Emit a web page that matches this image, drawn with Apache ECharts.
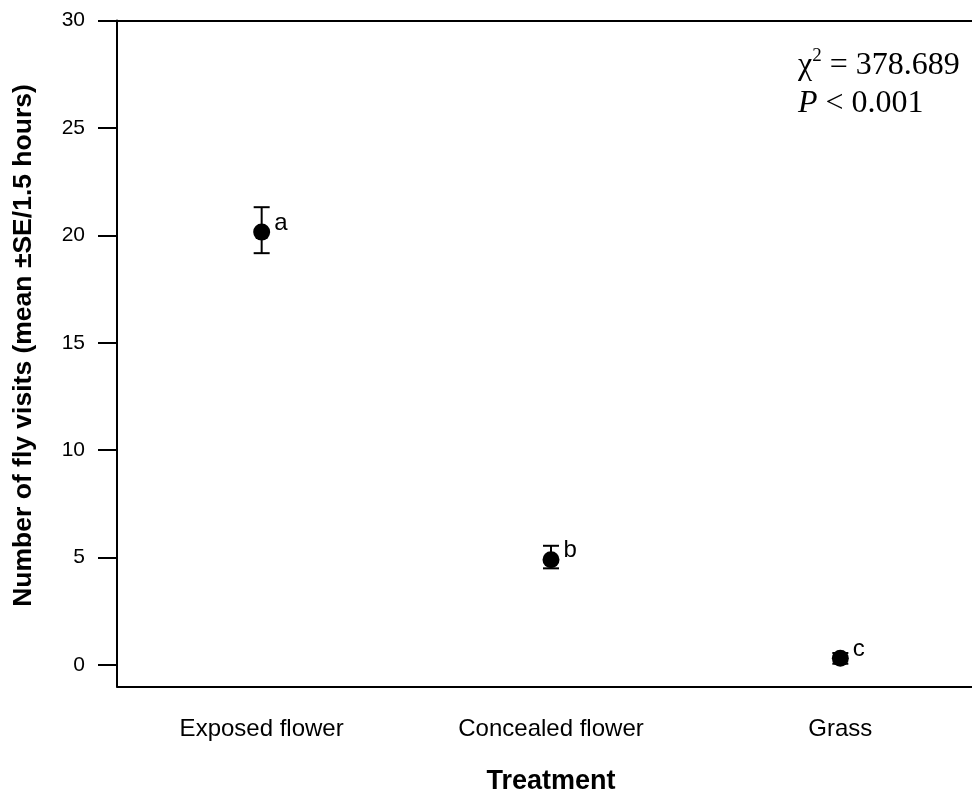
<!DOCTYPE html>
<html>
<head>
<meta charset="utf-8">
<script src="https://cdn.jsdelivr.net/npm/echarts@6/dist/echarts.min.js"></script>
<style>
  html, body { margin: 0; padding: 0; background: #fff; }
  #chart { width: 972px; height: 796px; }
</style>
</head>
<body>
<div id="chart"></div>
<script>
// data
const categories = ['Exposed flower', 'Concealed flower', 'Grass'];
const means = [20.15, 4.9, 0.31];
const seLow = [19.17, 4.5, 0.06];
const seHigh = [21.31, 5.55, 0.56];
const letters = ['a', 'b', 'c'];
const yTicks = [0, 5, 10, 15, 20, 25, 30];

const chartDom = document.getElementById('chart');
const myChart = echarts.init(chartDom);

const sans = '"Liberation Sans", Arial, sans-serif';
const serif = '"Liberation Serif", "Times New Roman", serif';

const errData = categories.map((c, i) => [i, seLow[i], seHigh[i]]);

const option = {
  backgroundColor: '#fff',
  animation: false,
  grid: { left: 117, top: 20.5, width: 868, height: 666, outerBoundsMode: 'none', containLabel: false },
  xAxis: [
    {
      type: 'category',
      data: categories,
      boundaryGap: true,
      name: 'Treatment',
      nameLocation: 'middle',
      nameGap: 82,
      nameTextStyle: { fontFamily: sans, fontSize: 27, fontWeight: 'bold', color: '#000' },
      axisLine: { onZero: false, lineStyle: { color: '#000', width: 2 } },
      axisTick: { alignWithLabel: true, length: 19, lineStyle: { color: '#000', width: 2 } },
      axisLabel: { fontFamily: sans, fontSize: 24, color: '#000', margin: 31 },
      splitLine: { show: false }
    },
    {
      type: 'category',
      data: categories,
      position: 'top',
      axisLine: { onZero: false, lineStyle: { color: '#000', width: 2 } },
      axisTick: { show: false },
      axisLabel: { show: false },
      splitLine: { show: false }
    }
  ],
  yAxis: {
    type: 'value',
    min: -1,
    max: 30,
    name: 'Number of fly visits (mean ±SE/1.5 hours)',
    nameLocation: 'middle',
    nameGap: 80,
    nameTextStyle: { fontFamily: sans, fontSize: 26.5, fontWeight: 'bold', color: '#000', padding: [0, 0, 0, 16] },
    axisLine: { show: true, lineStyle: { color: '#000', width: 2 } },
    axisTick: { show: true, length: 19, customValues: yTicks, lineStyle: { color: '#000', width: 2 } },
    axisLabel: { fontFamily: sans, fontSize: 21, color: '#000', margin: 32, customValues: yTicks },
    splitLine: { show: false }
  },
  graphic: [
    {
      type: 'text',
      left: 798,
      top: 47,
      style: {
        text: '{n|χ}{sup|2}{n| = 378.689}\n{i|P}{n| < 0.001}',
        rich: {
          n: { fontFamily: serif, fontSize: 32, color: '#000', lineHeight: 38 },
          i: { fontFamily: serif, fontSize: 32, fontStyle: 'italic', color: '#000', lineHeight: 38 },
          sup: { fontFamily: serif, fontSize: 19, color: '#000', lineHeight: 38, verticalAlign: 'top', padding: [0, 0, 14, 0] }
        }
      }
    }
  ],
  series: [
    {
      type: 'custom',
      name: 'SE',
      data: errData,
      z: 2,
      renderItem: function (params, api) {
        const x = api.value(0);
        const lo = api.coord([x, api.value(1)]);
        const hi = api.coord([x, api.value(2)]);
        const w = 8;
        const st = { stroke: '#000', lineWidth: 2 };
        return {
          type: 'group',
          children: [
            { type: 'line', shape: { x1: lo[0], y1: lo[1], x2: hi[0], y2: hi[1] }, style: st },
            { type: 'line', shape: { x1: hi[0] - w, y1: hi[1], x2: hi[0] + w, y2: hi[1] }, style: st },
            { type: 'line', shape: { x1: lo[0] - w, y1: lo[1], x2: lo[0] + w, y2: lo[1] }, style: st }
          ]
        };
      }
    },
    {
      type: 'scatter',
      name: 'mean',
      data: means,
      z: 3,
      symbol: 'circle',
      symbolSize: 17,
      itemStyle: { color: '#000', opacity: 1 },
      label: {
        show: true,
        position: 'right',
        distance: 4,
        offset: [0, -9],
        fontFamily: sans,
        fontSize: 24,
        color: '#000',
        formatter: (p) => letters[p.dataIndex]
      }
    }
  ]
};

option && myChart.setOption(option);
</script>
</body>
</html>
